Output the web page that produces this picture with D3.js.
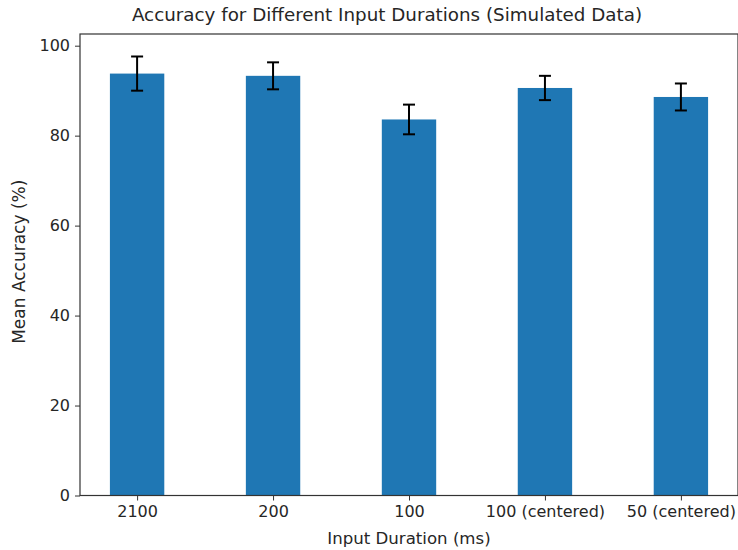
<!DOCTYPE html>
<html><head><meta charset="utf-8">
<script src="https://cdn.jsdelivr.net/npm/d3@7"></script>
<style>body{margin:0;background:#fff}svg{display:block}text{font-family:"DejaVu Sans",sans-serif;fill:#262626}</style>
</head><body>
<script>
const categories = ["2100", "200", "100", "100 (centered)", "50 (centered)"];
const means = [93.8, 93.3, 83.6, 90.6, 88.6];
const errors = [3.8, 3.0, 3.3, 2.7, 3.0];
const yTicks = [0, 20, 40, 60, 80, 100];

const W = 738, H = 550;
const mLeft = 80, mRight = 738, mTop = 34, mBottom = 495.5;
const svg = d3.select("body").append("svg").attr("width", W).attr("height", H);

const x = d3.scaleLinear().domain([-0.42, 4.42]).range([mLeft, mRight]);
const y = d3.scaleLinear().domain([0, 102.6]).range([mBottom, mTop]);
const bw = 0.4;

svg.selectAll("rect.bar").data(means).enter().append("rect")
  .attr("x", (d, i) => x(i - bw / 2))
  .attr("width", (d, i) => x(i + bw / 2) - x(i - bw / 2))
  .attr("y", d => y(d))
  .attr("height", d => y(0) - y(d))
  .attr("fill", "#1f77b4");

const eb = svg.append("g").attr("stroke", "#000").attr("stroke-width", 2);
means.forEach((m, i) => {
  const cx = x(i);
  eb.append("line").attr("x1", cx).attr("x2", cx).attr("y1", y(m - errors[i])).attr("y2", y(m + errors[i]));
  eb.append("line").attr("x1", cx - 6).attr("x2", cx + 6).attr("y1", y(m - errors[i])).attr("y2", y(m - errors[i]));
  eb.append("line").attr("x1", cx - 6).attr("x2", cx + 6).attr("y1", y(m + errors[i])).attr("y2", y(m + errors[i]));
});

const yAxis = svg.append("g").attr("transform", `translate(${mLeft},0)`)
  .call(d3.axisLeft(y).tickValues(yTicks).tickSize(5).tickPadding(5).tickFormat(d3.format("d")));
const xAxis = svg.append("g").attr("transform", `translate(0,${mBottom})`)
  .call(d3.axisBottom(x).tickValues(d3.range(categories.length)).tickSize(5).tickPadding(5).tickFormat(i => categories[i]));
[yAxis, xAxis].forEach(a => {
  a.selectAll(".domain").remove();
  a.selectAll("line").attr("stroke", "#333").attr("stroke-width", 1);
  a.selectAll("text").style("font-size", "16px").attr("fill", "#262626");
});

const sp = svg.append("g").attr("stroke", "#333").attr("stroke-width", 1.2).attr("fill", "none");
sp.append("rect").attr("x", mLeft).attr("y", mTop).attr("width", mRight - mLeft).attr("height", mBottom - mTop);

svg.append("text").attr("x", 387).attr("y", 21).attr("text-anchor", "middle")
  .style("font-size", "18.3px").text("Accuracy for Different Input Durations (Simulated Data)");
svg.append("text").attr("x", (mLeft + mRight) / 2).attr("y", 544).attr("text-anchor", "middle")
  .style("font-size", "16.6px").text("Input Duration (ms)");
svg.append("text").attr("transform", `translate(25,${(mTop + mBottom) / 2 - 3}) rotate(-90)`).attr("text-anchor", "middle")
  .style("font-size", "17px").text("Mean Accuracy (%)");
</script>
</body></html>
